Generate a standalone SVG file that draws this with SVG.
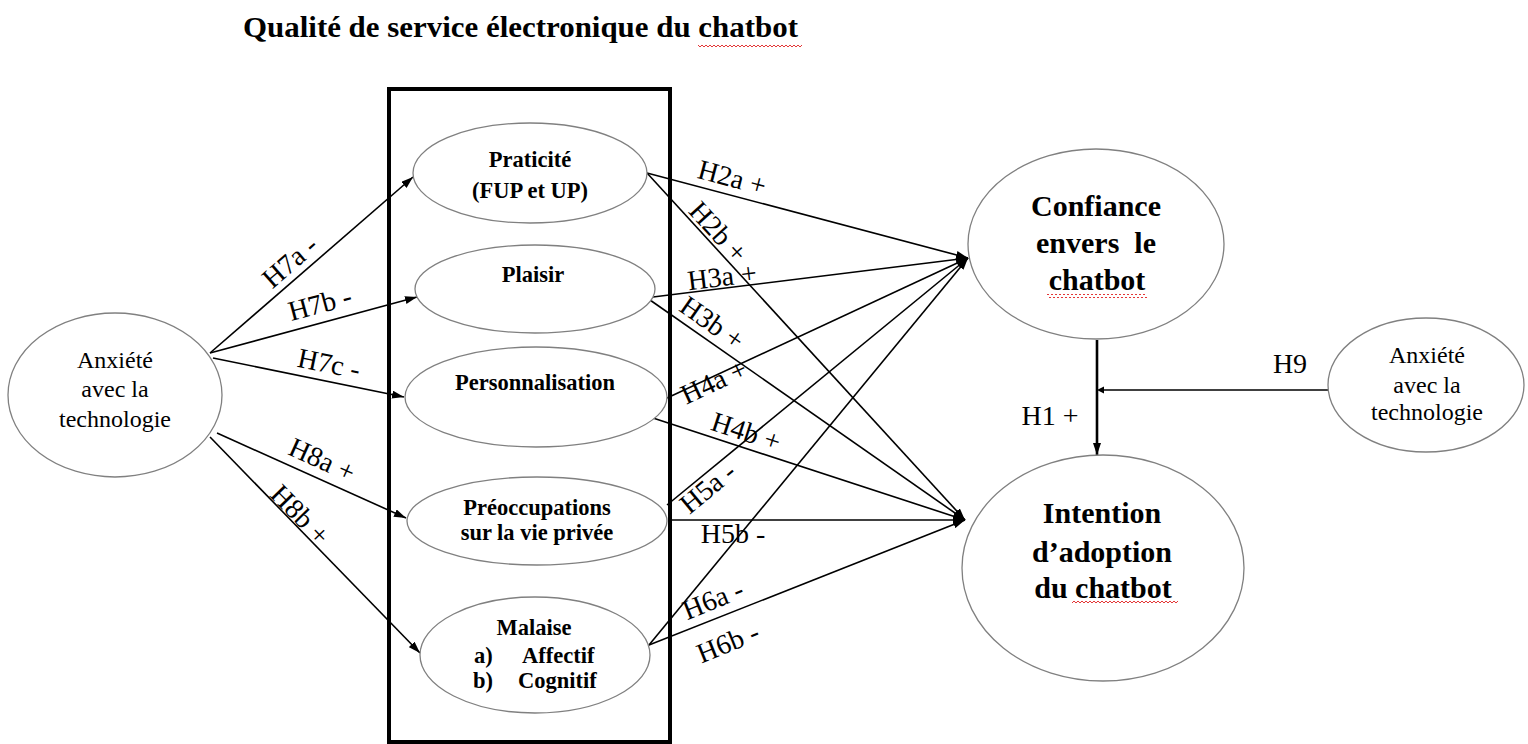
<svg xmlns="http://www.w3.org/2000/svg" width="1528" height="744" viewBox="0 0 1528 744">
<style>
.bg{fill:#fff}
.ell{fill:#fff;stroke:#808080;stroke-width:1.3}
.box{fill:none;stroke:#000;stroke-width:4}
.ln{fill:none;stroke:#000;stroke-width:1.6;marker-end:url(#ah)}
.ln0{fill:none;stroke:#000;stroke-width:1.6}
.thick{fill:none;stroke:#000;stroke-width:2.6;marker-end:url(#ah)}
.t{font-family:"Liberation Serif","Times New Roman",serif;fill:#000}
.b{font-weight:bold}
.eb{font-size:22.5px;text-anchor:middle}
.big{font-size:30px;text-anchor:middle}
.sm{font-size:24px;text-anchor:middle}
.lab{font-size:28px;text-anchor:middle}
.title{font-size:30px}
</style>
<defs>
<marker id="ah" viewBox="0 0 12 8" refX="12" refY="4" markerWidth="12" markerHeight="8" markerUnits="userSpaceOnUse" orient="auto"><path d="M0,0 L12,4 L0,8 z" fill="#000"/></marker>
<pattern id="sq" x="0" y="0" width="4" height="4" patternUnits="userSpaceOnUse"><path d="M0,3 L2,1 L4,3" fill="none" stroke="#e02020" stroke-width="0.9"/></pattern>
</defs>
<rect class="bg" x="0" y="0" width="1528" height="744"/>

<g id="title">
<text class="t b title" x="243" y="37" textLength="555" lengthAdjust="spacingAndGlyphs">Qualité de service électronique du chatbot</text>
<rect x="698" y="44" width="104" height="4" fill="url(#sq)"/>
</g>

<g id="frame">
<rect class="box" x="389" y="89" width="281" height="653"/>
</g>

<g id="connectors">
<line class="ln" x1="210" y1="353" x2="413" y2="177"/>
<line class="ln" x1="210" y1="353" x2="417" y2="297"/>
<line class="ln" x1="213" y1="358" x2="404" y2="397"/>
<line class="ln" x1="217" y1="433" x2="406" y2="518"/>
<line class="ln" x1="210" y1="437" x2="420" y2="653"/>
<line class="ln" x1="647" y1="173" x2="968" y2="258"/>
<line class="ln" x1="653" y1="297" x2="968" y2="258"/>
<line class="ln" x1="667" y1="398" x2="968" y2="258"/>
<line class="ln" x1="667" y1="505" x2="968" y2="258"/>
<line class="ln" x1="649" y1="645" x2="968" y2="258"/>
<line class="ln" x1="647" y1="173" x2="965" y2="520"/>
<line class="ln" x1="650" y1="300" x2="965" y2="520"/>
<line class="ln" x1="653" y1="418" x2="965" y2="520"/>
<line class="ln" x1="668" y1="520" x2="965" y2="520"/>
<line class="ln" x1="649" y1="645" x2="965" y2="520"/>
<line class="thick" x1="1097" y1="340" x2="1097" y2="455"/>
<line class="ln0" x1="1328" y1="390" x2="1103" y2="390"/>
<path d="M1104,386.5 L1097,390 L1104,393.5 z" fill="#000"/>
</g>

<g id="labels">
<text class="t lab" transform="translate(290,262) rotate(-41)" y="9">H7a -</text>
<text class="t lab" transform="translate(320,304) rotate(-15)" y="9">H7b -</text>
<text class="t lab" transform="translate(329,364) rotate(11.6)" y="9">H7c -</text>
<text class="t lab" transform="translate(322,460) rotate(24.3)" y="9">H8a +</text>
<text class="t lab" transform="translate(300,515) rotate(45.8)" y="9">H8b +</text>
<text class="t lab" transform="translate(732,178) rotate(14.8)" y="9">H2a +</text>
<text class="t lab" transform="translate(718,232) rotate(47.5)" y="9">H2b +</text>
<text class="t lab" transform="translate(722,277) rotate(-7)" y="9">H3a +</text>
<text class="t lab" transform="translate(712,323) rotate(34.9)" y="9">H3b +</text>
<text class="t lab" transform="translate(714,382) rotate(-25)" y="9">H4a +</text>
<text class="t lab" transform="translate(746,432) rotate(18.1)" y="9">H4b +</text>
<text class="t lab" transform="translate(708,488) rotate(-39.4)" y="9">H5a -</text>
<text class="t lab" x="733" y="543">H5b -</text>
<text class="t lab" transform="translate(713,600) rotate(-22)" y="9">H6a -</text>
<text class="t lab" transform="translate(728,643) rotate(-22)" y="9">H6b -</text>
<text class="t lab" x="1050" y="425">H1 +</text>
<text class="t lab" x="1290" y="373">H9</text>
</g>

<g id="n-anxiete-left">
<ellipse class="ell" cx="115" cy="395" rx="107" ry="82"/>
<text class="t sm" x="115" y="368">Anxiété</text>
<text class="t sm" x="115" y="397">avec la</text>
<text class="t sm" x="115" y="427">technologie</text>
</g>

<g id="n-praticite">
<ellipse class="ell" cx="530" cy="173" rx="117" ry="50"/>
<text class="t b eb" x="530" y="167">Praticité</text>
<text class="t b eb" x="530" y="198">(FUP et UP)</text>
</g>

<g id="n-plaisir">
<ellipse class="ell" cx="535" cy="289" rx="120" ry="44"/>
<text class="t b eb" x="533" y="282">Plaisir</text>
</g>

<g id="n-personnalisation">
<ellipse class="ell" cx="536" cy="397" rx="131" ry="50"/>
<text class="t b eb" x="535" y="390">Personnalisation</text>
</g>

<g id="n-preoccupations">
<ellipse class="ell" cx="537" cy="521" rx="130" ry="44"/>
<text class="t b eb" x="537" y="515">Préoccupations</text>
<text class="t b eb" x="537" y="540">sur la vie privée</text>
</g>

<g id="n-malaise">
<ellipse class="ell" cx="535" cy="655" rx="115" ry="58"/>
<text class="t b eb" x="534" y="635">Malaise</text>
<text class="t b" font-size="22.5" x="474" y="663">a)</text>
<text class="t b" font-size="22.5" x="522" y="663">Affectif</text>
<text class="t b" font-size="22.5" x="473" y="688">b)</text>
<text class="t b" font-size="22.5" x="518" y="688">Cognitif</text>
</g>

<g id="n-confiance">
<ellipse class="ell" cx="1096" cy="244" rx="128" ry="95"/>
<text class="t b big" x="1096" y="216">Confiance</text>
<text class="t b big" x="1096" y="253" xml:space="preserve">envers  le</text>
<text class="t b big" x="1097" y="290">chatbot</text>
<rect x="1047" y="294" width="100" height="4" fill="url(#sq)"/>
</g>

<g id="n-intention">
<ellipse class="ell" cx="1103" cy="568" rx="141" ry="113"/>
<text class="t b big" x="1102" y="523">Intention</text>
<text class="t b big" x="1102" y="562">d’adoption</text>
<text class="t b big" x="1103" y="598">du chatbot</text>
<rect x="1072" y="601" width="106" height="4" fill="url(#sq)"/>
</g>

<g id="n-anxiete-right">
<ellipse class="ell" cx="1426" cy="385" rx="98" ry="67"/>
<text class="t sm" x="1427" y="363">Anxiété</text>
<text class="t sm" x="1427" y="393">avec la</text>
<text class="t sm" x="1427" y="420">technologie</text>
</g>
</svg>
